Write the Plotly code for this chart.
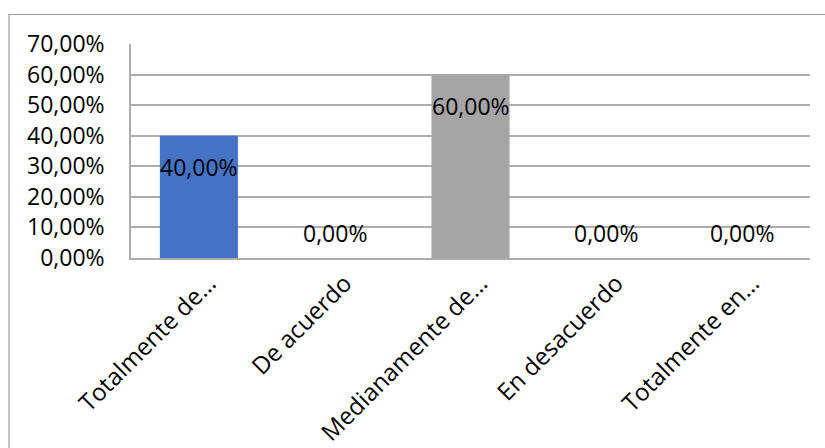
import plotly.graph_objects as go

# Survey responses and their share of the total
categories = ["Totalmente de…", "De acuerdo", "Medianamente de…", "En desacuerdo", "Totalmente en…"]
shares = [0.40, 0.00, 0.60, 0.00, 0.00]
bar_colors = ["#4472C4", "#ED7D31", "#A5A5A5", "#FFC000", "#5B9BD5"]
y_ticks = [0.0, 0.1, 0.2, 0.3, 0.4, 0.5, 0.6, 0.7]

FONT = "Open Sans"
W, H = 825, 448
L, R, T, B = 131, 15, 44, 190
GRID = "#ADADAD"


def pct(v):
    return f"{v * 100:.2f}%".replace(".", ",")


fig = go.Figure(
    go.Bar(
        x=categories,
        y=shares,
        marker=dict(color=bar_colors, line=dict(width=0)),
        hoverinfo="skip",
    )
)

# value labels: inside the top of tall bars, just above the baseline for empty ones
for cat, v in zip(categories, shares):
    fig.add_annotation(
        x=cat, y=v, xref="x", yref="y",
        text=pct(v), showarrow=False,
        yanchor="middle", xanchor="center",
        yshift=-31 if v > 0 else 25,
        font=dict(family=FONT, size=23, color="#000000"),
    )

# chart frame (extends past the visible page on right and bottom)
pw, ph = W - L - R, H - T - B
fig.add_shape(
    type="rect", xref="paper", yref="paper",
    x0=(9 - L) / pw, x1=(W + 20 - L) / pw,
    y0=(H - B - (H + 20)) / ph, y1=(H - B - 14.5) / ph,
    line=dict(color="#9A9A9A", width=1.2), fillcolor="rgba(0,0,0,0)",
    layer="below",
)

fig.update_layout(
    width=W, height=H,
    margin=dict(l=L, r=R, t=T, b=B, autoexpand=False),
    paper_bgcolor="white", plot_bgcolor="white",
    separators=", ",
    bargap=0.425,
    showlegend=False,
    font=dict(family=FONT, size=23, color="#000000"),
)
fig.update_xaxes(
    tickangle=-45,
    tickfont=dict(family=FONT, size=24),
    showgrid=False,
    showline=True, linecolor=GRID, linewidth=1.5,
    ticks="",
    ticklabelshift=10,
)
fig.update_yaxes(
    range=[0, 0.7],
    tickvals=y_ticks,
    tickformat=".2%",
    tickfont=dict(family=FONT, size=23),
    showgrid=True, gridcolor=GRID, gridwidth=1.5,
    showline=True, linecolor=GRID, linewidth=1.5,
    zeroline=False,
    ticks="",
    ticklabelstandoff=20,
)

fig.write_html("out.html")
